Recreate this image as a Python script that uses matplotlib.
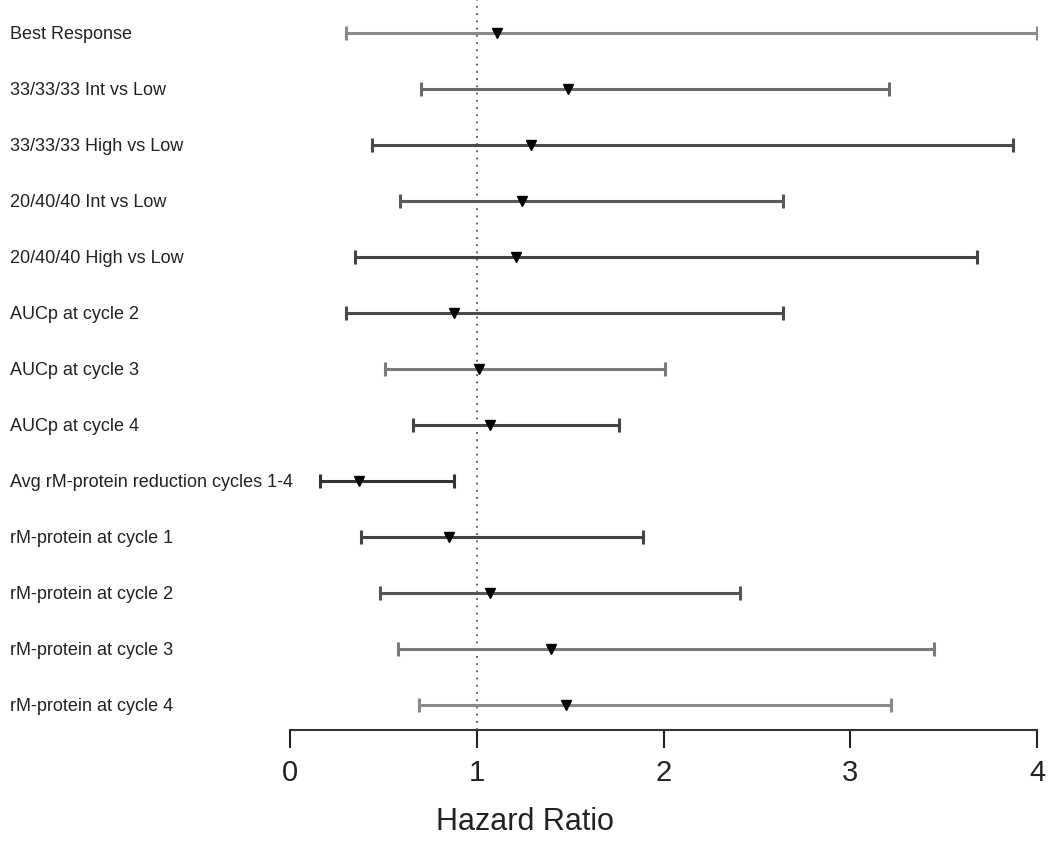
import matplotlib.pyplot as plt
from matplotlib import transforms

plt.rcParams['font.family'] = ['Liberation Sans', 'DejaVu Sans']

labels = [
    "Best Response",
    "33/33/33 Int vs Low",
    "33/33/33 High vs Low",
    "20/40/40 Int vs Low",
    "20/40/40 High vs Low",
    "AUCp at cycle 2",
    "AUCp at cycle 3",
    "AUCp at cycle 4",
    "Avg rM-protein reduction cycles 1-4",
    "rM-protein at cycle 1",
    "rM-protein at cycle 2",
    "rM-protein at cycle 3",
    "rM-protein at cycle 4",
]
hr = [1.11, 1.49, 1.29, 1.24, 1.21, 0.88, 1.01, 1.07, 0.37, 0.85, 1.07, 1.40, 1.48]
lower = [0.30, 0.70, 0.44, 0.59, 0.35, 0.30, 0.51, 0.66, 0.16, 0.38, 0.48, 0.58, 0.69]
upper = [4.00, 3.21, 3.87, 2.64, 3.68, 2.64, 2.01, 1.76, 0.88, 1.89, 2.41, 3.45, 3.22]

# line tone per row (some CIs look lighter in the source)
tones = ["#8a8a8a", "#6a6a6a", "#4a4a4a", "#5a5a5a", "#444444", "#4a4a4a", "#7a7a7a",
         "#444444", "#333333", "#444444", "#555555", "#7a7a7a", "#8a8a8a"]

fig = plt.figure(figsize=(10.5, 8.43), dpi=100)
ax = fig.add_axes([290 / 1050, (843 - 730) / 843, (1037 - 290) / 1050, 730 / 843])

n = len(labels)
for i in range(n):
    ax.errorbar(hr[i], i, xerr=[[hr[i] - lower[i]], [upper[i] - hr[i]]],
                fmt='none', ecolor=tones[i], elinewidth=2.2, capsize=5, capthick=2.2,
                zorder=2)
    ax.plot(hr[i], i, marker='v', color='black', markersize=7, zorder=3)

ax.axvline(1, color='#555555', linestyle=(0, (1, 3)), linewidth=1.3, zorder=1)

ax.set_xlim(0, 4)
ax.set_ylim(n - 1 + 25 / 56, -33 / 56)
ax.set_yticks([])
ax.set_xticks([0, 1, 2, 3, 4])
ax.tick_params(axis='x', length=13, width=1.5, colors='#222222', labelsize=21, pad=8)

for s in ['top', 'right', 'left']:
    ax.spines[s].set_visible(False)
ax.spines['bottom'].set_linewidth(1.5)
ax.spines['bottom'].set_color('#333333')

trans = transforms.blended_transform_factory(fig.transFigure, ax.transData)
for i, lab in enumerate(labels):
    ax.text(10 / 1050, i + 0.02, lab, transform=trans, ha='left', va='center',
            fontsize=13, color='#222222')

fig.text(0.5, (843 - 822) / 843, "Hazard Ratio", ha='center', va='center',
         fontsize=22, color='#222222')

fig.savefig("out.png", dpi=100)
